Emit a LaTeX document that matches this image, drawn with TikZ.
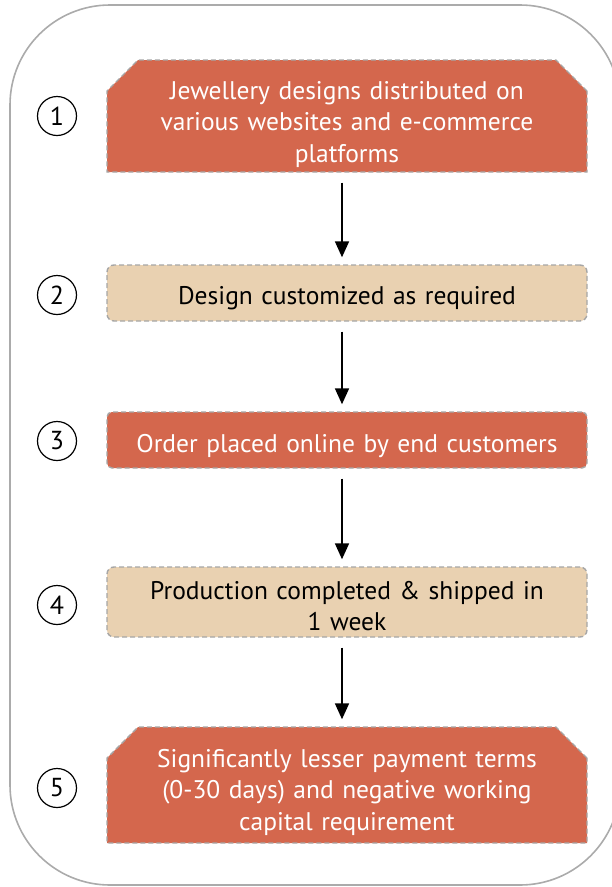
\documentclass[tikz,border=0pt]{standalone}
\usepackage{fontspec}
\setmainfont{PT Sans}
\usetikzlibrary{shapes.misc,arrows.meta}

\definecolor{stepred}{HTML}{D4674D}
\definecolor{stepsand}{HTML}{E9D1B1}
\definecolor{edgegray}{HTML}{A6A6A6}
\definecolor{framegray}{HTML}{ABABAB}

\tikzset{
  box/.style={draw=edgegray, dash pattern=on 5pt off 3pt, line width=1.4pt,
    minimum width=480pt, text width=452pt, align=center, inner sep=0pt,
    font=\fontsize{25.5}{31.5}\selectfont},
  redbox/.style={box, fill=stepred, text=white, chamfered rectangle,
    chamfered rectangle corners={north west,north east},
    chamfered rectangle xsep=14pt, chamfered rectangle ysep=17pt},
  sandbox/.style={box, fill=stepsand, text=black, rounded corners=7pt},
  flatbox/.style={box, fill=stepred, text=white, rounded corners=5pt},
  num/.style={circle, draw, line width=1.2pt, minimum size=39pt, inner sep=0pt,
    font=\fontsize{26}{26}\selectfont},
  flow/.style={line width=1.8pt, -{Triangle[width=14pt,length=16pt]},
    shorten <=10pt, shorten >=7pt}
}

\begin{document}
\begin{tikzpicture}[x=1pt,y=-1pt]
    \useasboundingbox (0,0) rectangle (611,887);
    \draw[framegray, line width=1.6pt, rounded corners=100pt] (10,5) rectangle (620,885);

    \node[redbox, text height=22pt, text depth=56pt] (b1) at (347,116)
        {Jewellery designs distributed on\\various websites and e-commerce\\platforms};
    \node[sandbox, text height=39pt, text depth=17pt] (b2) at (347,293)
        {Design customized as required};
    \node[flatbox, text height=40pt, text depth=16pt] (b3) at (347,440)
        {Order placed online by end customers};
    \node[sandbox, text height=32pt, text depth=38pt] (b4) at (347,602)
        {Production completed \& shipped in\\1 week};
    \node[redbox, text height=23pt, text depth=59pt] (b5) at (347,785)
        {Significantly lesser payment terms\\(0-30 days) and negative working\\capital requirement};

    \node[num] (n1) at (57,116) {1};
    \node[num] (n2) at (57,295) {2};
    \node[num] (n3) at (57,441) {3};
    \node[num] (n4) at (57,605) {4};
    \node[num] (n5) at (57,788) {5};

    \draw[flow] ([xshift=-5pt]b1.south) -- ([xshift=-5pt]b2.north);
    \draw[flow] ([xshift=-5pt]b2.south) -- ([xshift=-5pt]b3.north);
    \draw[flow] ([xshift=-5pt]b3.south) -- ([xshift=-5pt]b4.north);
    \draw[flow] ([xshift=-5pt]b4.south) -- ([xshift=-5pt]b5.north);
\end{tikzpicture}
\end{document}
